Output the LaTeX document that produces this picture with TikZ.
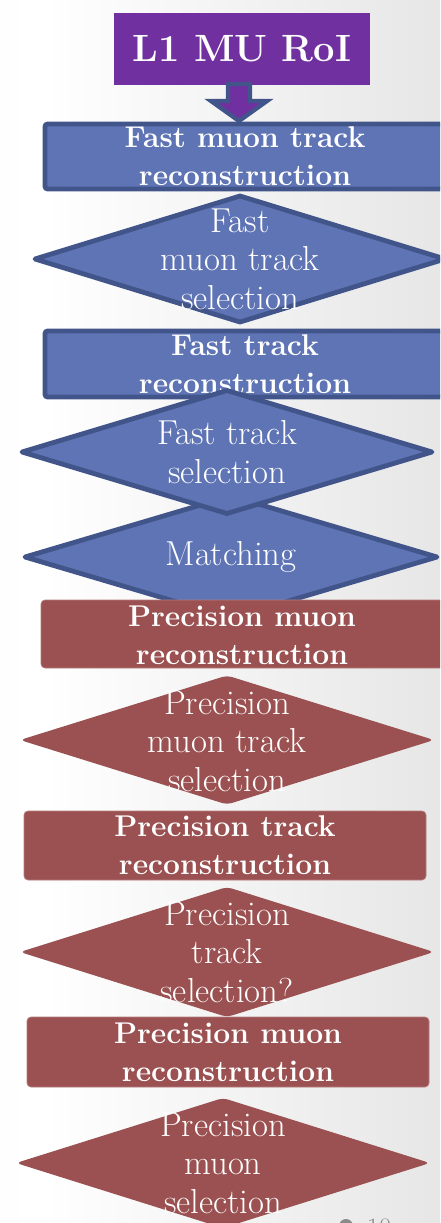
\documentclass[tikz,border=0pt]{standalone}
\usepackage{fontspec}
\usetikzlibrary{shapes.geometric,calc}
\definecolor{mupurple}{HTML}{7030A0}
\definecolor{bfill}{HTML}{5E74B4}
\definecolor{bline}{HTML}{42558A}
\definecolor{rfill}{HTML}{9B5151}
\definecolor{redge}{HTML}{B77C7C}
\definecolor{pgray}{HTML}{8A8A8A}
\pgfdeclarehorizontalshading{slidebg}{100bp}{color(0bp)=(black!2); color(30bp)=(white); color(100bp)=(black!15)}
\newcommand\boldtxt{\fontsize{22.5}{28.5}\selectfont\bfseries}
\newcommand\regtxt{\fontsize{26}{28.8}\selectfont}
\def\px{*0.75pt}
\tikzset{
  every node/.style={inner sep=0pt, outer sep=0pt},
  bbox/.style={rectangle, fill=bfill, draw=bline, line width=3.6pt, rounded corners=2pt},
  bdiam/.style={diamond, fill=bfill, draw=bline, line width=3.6pt, line join=round},
  rbox/.style={rectangle, fill=rfill, draw=redge, line width=0.5pt, rounded corners=3pt},
  rdiam/.style={diamond, fill=rfill, rounded corners=4pt},
  btext/.style={text=white, align=center, font=\boldtxt},
  rtext/.style={text=white, align=center, font=\regtxt},
  barrow/.style={fill=mupurple, draw=bline, line width=3.2pt, line join=miter}
}
\begin{document}
\begin{tikzpicture}[x=0.75pt, y=-0.75pt]
\useasboundingbox (0,0) rectangle (440,1223);
\clip (0,0) rectangle (440,1223);
\shade[shading=slidebg] (0,0) rectangle (440,1223);

% top box
\node[fill=mupurple, minimum width=256\px, minimum height=72\px, text=white,
      font=\fontsize{28.5}{34}\selectfont\bfseries] (l1) at (242,49) {L1 MU RoI};

% blue stage
\node[bbox, minimum width=400\px, minimum height=65\px] (b1) at (245,156.5) {};
\node[btext] (b1t) at (b1) {Fast muon track\\reconstruction};

% block arrow from l1 to b1
\path (l1.south) ++(-3,-1) coordinate (as);
\draw[barrow] ($(as)+(-11,0)$) -- ($(as)+(11,0)$) -- ($(as)+(11,17)$) -- ($(as)+(28,17)$)
   -- ($(as |- b1.north)+(0,-3)$) -- ($(as)+(-28,17)$) -- ($(as)+(-11,17)$) -- cycle;

\node[bdiam, minimum width=410\px, minimum height=126\px] (d1) at (240,259) {};
\node[rtext] (d1t) at (240,259) {Fast\\muon track\\selection};

\node[bbox, minimum width=400\px, minimum height=66\px] (b2) at (245,364) {};
\node[btext] (b2t) at (b2) {Fast track\\reconstruction};

\node[bdiam, minimum width=412\px, minimum height=122\px] (d3) at (231,557) {};
\node[rtext] (d3t) at (d3) {Matching};

\node[bdiam, minimum width=410\px, minimum height=123\px] (d2) at (227,452) {};
\node[rtext] (d2t) at (d2) {Fast track\\selection};

% red stage
\node[rbox, minimum width=404\px, minimum height=68\px] (r1) at (243,634) {};
\node[btext] (r1t) at (242,635) {Precision muon\\reconstruction};

\node[rdiam, minimum width=414\px, minimum height=129\px] (rd1) at (227,740) {};
\node[rtext] (rd1t) at (227,741) {Precision\\muon track\\selection};

\node[rbox, minimum width=402\px, minimum height=69\px] (r2) at (225,845.5) {};
\node[btext] (r2t) at (r2) {Precision track\\reconstruction};

\node[rdiam, minimum width=414\px, minimum height=130\px] (rd2) at (227,952) {};
\node[rtext] (rd2t) at (227,952) {Precision\\track\\selection?};

\node[rbox, minimum width=402\px, minimum height=70\px] (r3) at (228,1052) {};
\node[btext] (r3t) at (r3) {Precision muon\\reconstruction};

\node[rdiam, minimum width=414\px, minimum height=130\px] (rd3) at (223,1163) {};
\node[rtext] (rd3t) at (223,1163) {Precision\\muon\\selection};

% page number (cut off at the bottom)
\node[circle, fill=pgray, minimum size=14\px] (dot) at (346,1226) {};
\node[text=pgray, font=\fontsize{20}{22}\selectfont] (pg) at (379,1228) {10};
\end{tikzpicture}
\end{document}
